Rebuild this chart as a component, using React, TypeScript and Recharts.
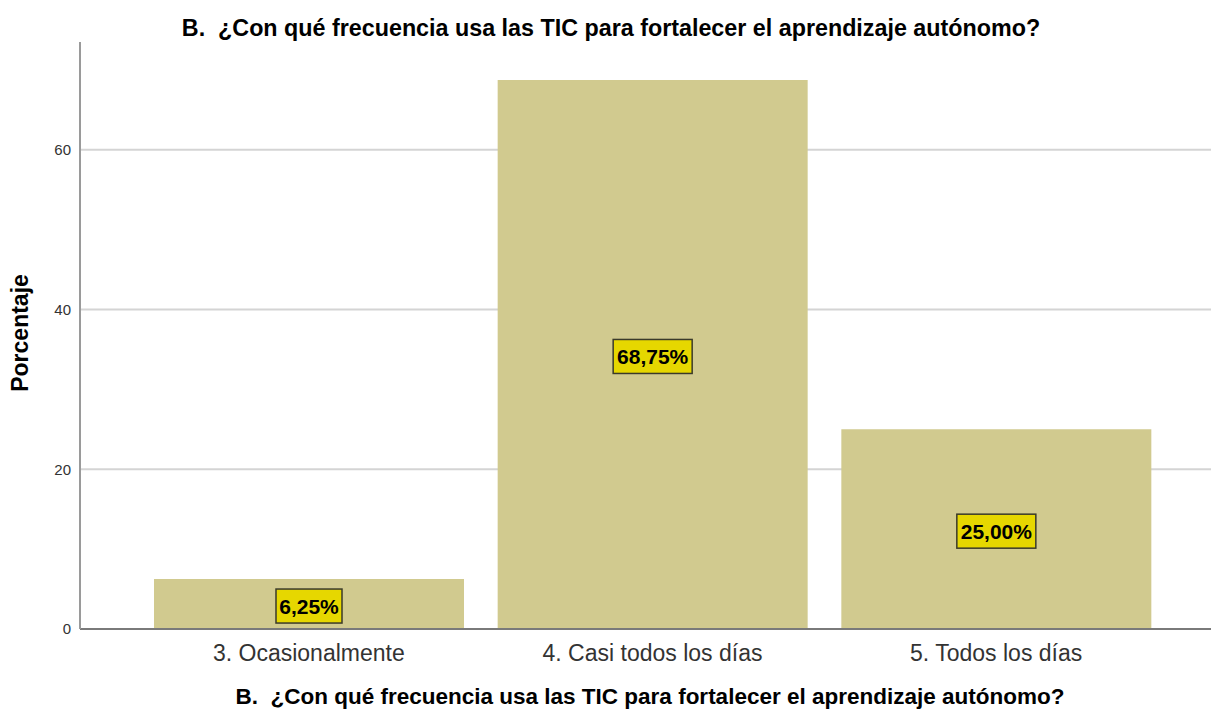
import React from 'react';
import { BarChart, Bar, XAxis, YAxis, CartesianGrid, LabelList } from 'recharts';

const categories = ['3. Ocasionalmente', '4. Casi todos los días', '5. Todos los días'];
const percentages = [6.25, 68.75, 25.0];
const yTicks = [0, 20, 40, 60];

const TITLE = 'B.  ¿Con qué frecuencia usa las TIC para fortalecer el aprendizaje autónomo?';
const FONT = '"Liberation Sans", Arial, sans-serif';
const BAR_FILL = '#d1ca8f';
const BOX_FILL = '#e6d700';

const data = categories.map((name, i) => ({ name, value: percentages[i] }));

const fmtPct = (v: number) => v.toFixed(2).replace('.', ',') + '%';

/* eslint-disable @typescript-eslint/no-explicit-any */
function ValueBox({ x, y, width, height, value }: any) {
  const text = fmtPct(Number(value));
  const w = text.length * 13 + 1;
  const h = 34;
  const cx = Number(x) + Number(width) / 2;
  const cy = Number(y) + Number(height) / 2 + 2;
  return (
    <g>
      <rect x={cx - w / 2} y={cy - h / 2} width={w} height={h} fill={BOX_FILL} stroke="#3a3a2a" strokeWidth={1.5} />
      <text x={cx} y={cy} dy={7.5} textAnchor="middle" fontFamily={FONT} fontWeight="bold" fontSize={21} fill="#000">
        {text}
      </text>
    </g>
  );
}

function XTick({ x, y, payload }: any) {
  return (
    <text x={x} y={y} dy={24} textAnchor="middle" fontFamily={FONT} fontSize={23} fill="#333">
      {payload.value}
    </text>
  );
}
/* eslint-enable @typescript-eslint/no-explicit-any */

export default function App() {
  return (
    <div style={{ position: 'absolute', left: 0, top: 0, width: 1211, height: 711, background: '#fff' }}>
      <BarChart
        width={1211}
        height={711}
        data={data}
        margin={{ top: 42, right: 0, left: 30, bottom: 42 }}
        barCategoryGap={17}
      >
        <CartesianGrid vertical={false} stroke="#d4d4d4" strokeWidth={2} syncWithTicks />
        <XAxis
          dataKey="name"
          height={40}
          padding={{ left: 57, right: 43 }}
          tick={<XTick />}
          tickLine={false}
          axisLine={{ stroke: '#7a7a7a', strokeWidth: 2 }}
          interval={0}
        />
        <YAxis
          width={50}
          domain={[0, 73.5]}
          ticks={yTicks}
          tickLine={false}
          axisLine={{ stroke: '#9a9a9a', strokeWidth: 2 }}
          tick={{ fontSize: 15, fill: '#333', fontFamily: FONT }}
          tickMargin={3}
        />
        <Bar dataKey="value" fill={BAR_FILL} isAnimationActive={false}>
          <LabelList dataKey="value" content={<ValueBox />} />
        </Bar>
      </BarChart>
      <svg width={1211} height={711} style={{ position: 'absolute', left: 0, top: 0, pointerEvents: 'none' }}>
        <text x={611} y={36} textAnchor="middle" fontFamily={FONT} fontWeight="bold" fontSize={23.3} fill="#000" style={{ whiteSpace: 'pre' }}>
          {TITLE}
        </text>
        <text x={650} y={704} textAnchor="middle" fontFamily={FONT} fontWeight="bold" fontSize={22.5} fill="#000" style={{ whiteSpace: 'pre' }}>
          {TITLE}
        </text>
        <text
          transform="translate(28, 333) rotate(-90)"
          textAnchor="middle"
          fontFamily={FONT}
          fontWeight="bold"
          fontSize={23}
          fill="#000"
        >
          Porcentaje
        </text>
      </svg>
    </div>
  );
}
